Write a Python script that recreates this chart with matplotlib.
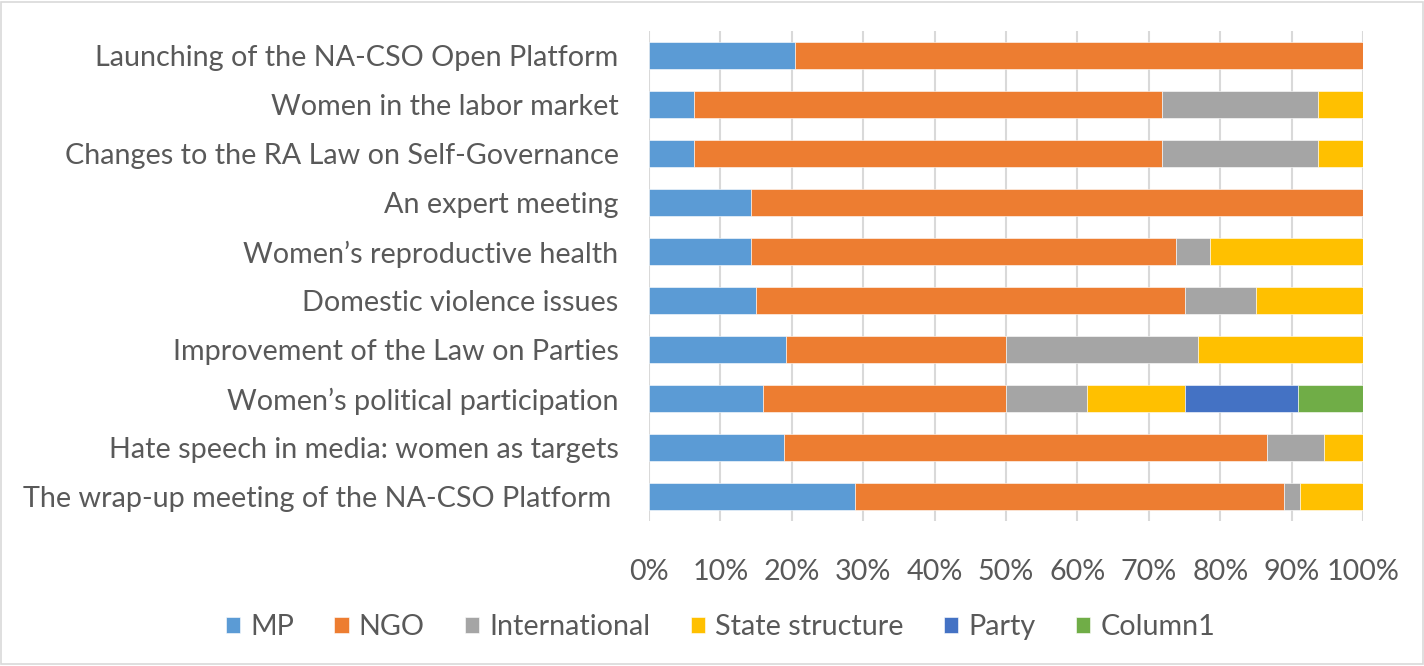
import matplotlib
matplotlib.use("Agg")
import matplotlib.pyplot as plt
import numpy as np
from matplotlib.patches import Rectangle
from matplotlib.ticker import PercentFormatter

# categories, top to bottom as in the chart
categories = [
    "Launching of the NA-CSO Open Platform",
    "Women in the labor market",
    "Changes to the RA Law on Self-Governance",
    "An expert meeting",
    "Women\u2019s reproductive health",
    "Domestic violence issues",
    "Improvement of the Law on Parties",
    "Women\u2019s political participation",
    "Hate speech in media: women as targets",
    "The wrap-up meeting of the NA-CSO Platform ",
]

# shares in percent
mp = [20.4, 6.25, 6.25, 14.3, 14.3, 15.0, 19.2, 15.9, 18.9, 28.9]
ngo = [79.6, 65.6, 65.6, 85.7, 59.5, 60.0, 30.8, 34.1, 67.6, 60.0]
international = [0, 21.9, 21.9, 0, 4.8, 10.0, 26.9, 11.4, 8.1, 2.2]
state_structure = [0, 6.25, 6.25, 0, 21.4, 15.0, 23.1, 13.6, 5.4, 8.9]
party = [0, 0, 0, 0, 0, 0, 0, 15.9, 0, 0]
column1 = [0, 0, 0, 0, 0, 0, 0, 9.1, 0, 0]

series = [
    ("MP", mp, "#5B9BD5"),
    ("NGO", ngo, "#ED7D31"),
    ("International", international, "#A5A5A5"),
    ("State structure", state_structure, "#FFC000"),
    ("Party", party, "#4472C4"),
    ("Column1", column1, "#70AD47"),
]

plt.rcParams['font.family'] = ['Lato', 'DejaVu Sans']
text_color = "#595959"
fs = 20.7

fig = plt.figure(figsize=(14.24, 6.66), dpi=100)
ax = fig.add_axes([0.4558, 0.217, 0.5014, 0.736])

y = np.arange(len(categories))
left = np.zeros(len(categories))
for name, vals, color in series:
    vals = np.array(vals, dtype=float)
    ax.barh(y, vals, left=left, height=0.55, color=color, label=name,
            edgecolor="white", linewidth=0.4, zorder=3)
    left += vals

ax.set_ylim(len(categories) - 0.5, -0.5)
ax.set_xlim(0, 100)
ax.set_yticks(y)
ax.set_yticklabels(categories)
ax.set_xticks(np.arange(0, 101, 10))
ax.xaxis.set_major_formatter(PercentFormatter(decimals=0))

ax.tick_params(axis="y", length=0, pad=22, labelsize=fs, labelcolor=text_color)
ax.tick_params(axis="x", length=0, pad=27, labelsize=fs, labelcolor=text_color)

ax.grid(axis="x", color="#d9d9d9", linewidth=1.5, zorder=0)
for s in ax.spines.values():
    s.set_visible(False)

leg = fig.legend(loc="center", bbox_to_anchor=(0.506, 0.058), ncol=6, frameon=False,
                 fontsize=fs, handlelength=0.5, handleheight=0.5,
                 handletextpad=0.35, columnspacing=1.4)
for t in leg.get_texts():
    t.set_color(text_color)

fig.patches.append(Rectangle((0.001, 0.003), 0.998, 0.994, transform=fig.transFigure,
                             fill=False, edgecolor="#d9d9d9", linewidth=1.2))

fig.savefig("out.png", dpi=100)
